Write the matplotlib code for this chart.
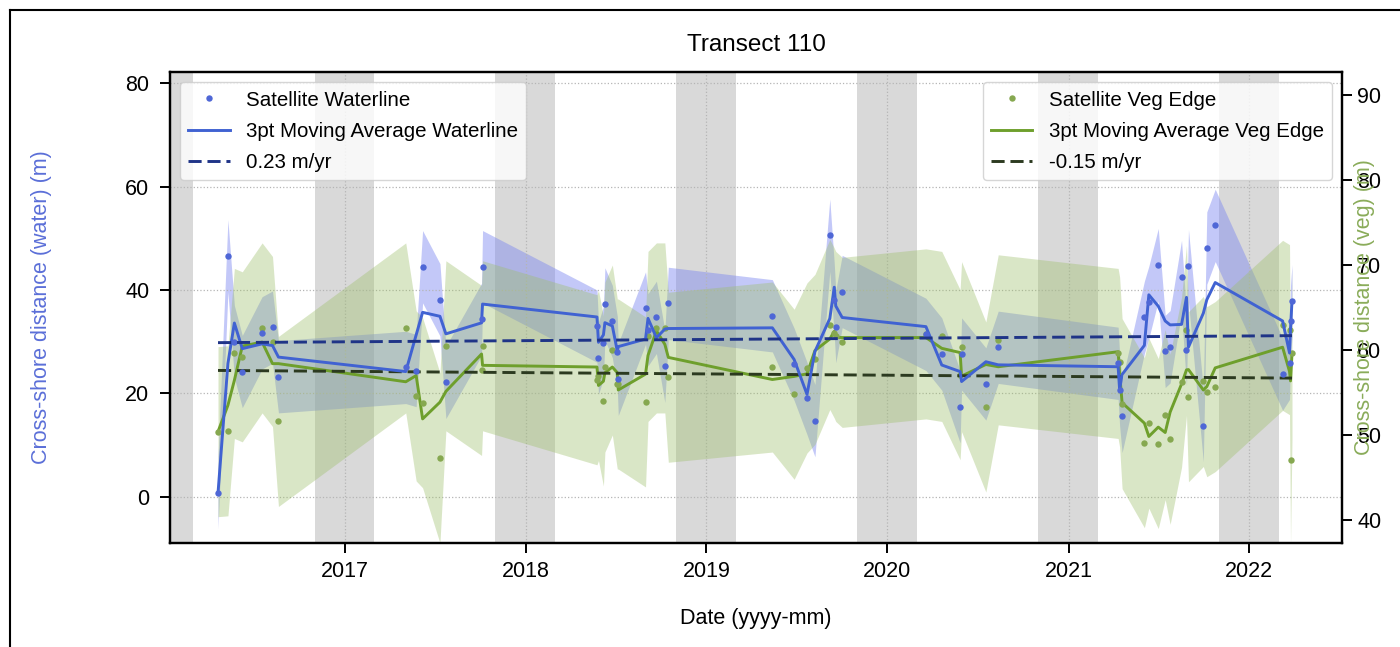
import matplotlib

matplotlib.use("Agg")

import matplotlib.pyplot as plt
import numpy as np
import pandas as pd
from matplotlib.lines import Line2D

plt.rcParams["font.family"] = ["Liberation Sans", "DejaVu Sans"]

TITLE = "Transect 110"

# survey dates shared by both shorelines
DATES = [
    "2016-04-20", "2016-05-10", "2016-05-23", "2016-06-08", "2016-07-18", "2016-08-08",
    "2016-08-20", "2017-05-04", "2017-05-25", "2017-06-07", "2017-07-12", "2017-07-24",
    "2017-10-04", "2017-10-06", "2018-05-25", "2018-05-28", "2018-06-07", "2018-06-10",
    "2018-06-25", "2018-07-05", "2018-07-07", "2018-08-31", "2018-09-05", "2018-09-22",
    "2018-10-09", "2018-10-16", "2019-05-14", "2019-06-27", "2019-07-23", "2019-08-08",
    "2019-09-07", "2019-09-16", "2019-09-19", "2019-10-02", "2020-03-19", "2020-04-20",
    "2020-05-27", "2020-05-30", "2020-07-18", "2020-08-12", "2021-04-11", "2021-04-14",
    "2021-04-19", "2021-06-03", "2021-06-12", "2021-07-01", "2021-07-15", "2021-07-25",
    "2021-08-17", "2021-08-27", "2021-08-31", "2021-09-30", "2021-10-07", "2021-10-24",
    "2022-03-09", "2022-03-23", "2022-03-25", "2022-03-28",
]

WATER = [
    0.7, 46.6, 30.0, 24.2, 31.7, 32.8, 23.2, 25.0, 24.4, 44.5, 38.1, 22.1,
    34.3, 44.5, 33.0, 26.8, 29.8, 37.3, 33.9, 27.9, 22.7, 36.5, 32.3, 34.7,
    25.2, 37.4, 35.0, 25.6, 19.0, 14.7, 50.6, 38.1, 32.9, 39.7, 31.4, 27.6,
    17.4, 27.6, 21.8, 28.9, 25.8, 20.7, 15.5, 34.7, 37.6, 44.9, 28.1, 29.0,
    42.6, 28.4, 44.7, 13.7, 48.1, 52.5, 23.7, 25.8, 33.9, 37.9,
]

VEG = [
    50.4, 50.5, 59.6, 59.2, 62.6, 61.0, 51.6, 62.6, 54.6, 53.8, 47.3, 60.5,
    57.6, 60.5, 56.5, 57.0, 54.0, 58.0, 60.0, 56.0, 56.0, 53.9, 61.6, 62.6,
    62.6, 56.8, 58.0, 54.8, 57.9, 58.9, 63.0, 62.0, 61.6, 60.9, 61.9, 61.6,
    57.1, 60.4, 53.3, 61.2, 59.6, 58.6, 53.7, 49.1, 51.4, 49.0, 52.4, 49.5,
    56.2, 62.3, 54.5, 56.3, 55.1, 55.7, 62.9, 62.4, 47.1, 59.6,
]

# error band half widths (m)
WATER_ERR = 7.0
VEG_ERR = 10.0

# linear trend end values (first date, last date)
WATER_TREND = [29.8, 31.15]
VEG_TREND = [57.6, 56.7]
WATER_TREND_LABEL = "0.23 m/yr"
VEG_TREND_LABEL = "-0.15 m/yr"

WINTER_YEARS = [2015, 2016, 2017, 2018, 2019, 2020, 2021]

WATER_COL = "#4f67d6"
WATER_LINE = "#4062d2"
WATER_FILL = "#7b86f0"
WATER_TREND_COL = "#1f3487"
VEG_COL = "#86a850"
VEG_LINE = "#6e9f2c"
VEG_FILL = "#9dbf6a"
VEG_TREND_COL = "#2c3a20"

LW = 2.1
MS = 4.6
DASHES = (4.5, 2)


def moving_average(values, window=3):
    # centred moving average, end points kept as the raw values
    values = np.asarray(values, dtype=float)
    avg = np.convolve(values, np.ones(window) / window, mode="same")
    avg[0] = values[0]
    avg[-1] = values[-1]
    return avg


def main():
    dates = pd.to_datetime(DATES)
    water = np.array(WATER)
    veg = np.array(VEG)

    fig = plt.figure(figsize=(14, 6.47), dpi=100)
    ax = fig.add_axes([0.1214, 0.1607, 0.8372, 0.728])
    ax2 = ax.twinx()   # veg scale
    ax3 = ax.twinx()   # water marks drawn above the veg band
    water_ylim = (-9.0, 82.2)

    for year in WINTER_YEARS:
        ax.axvspan(pd.Timestamp(year, 11, 1), pd.Timestamp(year + 1, 3, 1),
                   color="#d9d9d9", lw=0, zorder=0)

    ax.fill_between(dates, water - WATER_ERR, water + WATER_ERR,
                    color=WATER_FILL, alpha=0.45, lw=0, zorder=1)

    ax2.fill_between(dates, veg - VEG_ERR, veg + VEG_ERR,
                     color=VEG_FILL, alpha=0.38, lw=0, zorder=1)
    ax2.plot(dates, moving_average(veg), color=VEG_LINE, lw=LW, zorder=3)
    ax2.plot(dates, veg, ls="none", marker="o", ms=MS, mew=0, color=VEG_COL, zorder=4)
    ax2.plot([dates[0], dates[-1]], VEG_TREND, ls="--", dashes=DASHES,
             color=VEG_TREND_COL, lw=LW, zorder=5)

    ax3.plot(dates, moving_average(water), color=WATER_LINE, lw=LW, zorder=3)
    ax3.plot(dates, water, ls="none", marker="o", ms=MS, mew=0, color=WATER_COL, zorder=4)
    ax3.plot([dates[0], dates[-1]], WATER_TREND, ls="--", dashes=DASHES,
             color=WATER_TREND_COL, lw=LW, zorder=5)

    ax.set_xlim(pd.Timestamp("2016-01-14"), pd.Timestamp("2022-07-07"))
    ax.set_ylim(*water_ylim)
    ax3.set_ylim(*water_ylim)
    ax2.set_ylim(37.3, 92.7)
    ax3.axis("off")
    ax.set_yticks([0, 20, 40, 60, 80])
    ax2.set_yticks([40, 50, 60, 70, 80, 90])
    ax.set_xticks(pd.to_datetime([f"{y}-01-01" for y in range(2017, 2023)]))
    ax.set_xticklabels([str(y) for y in range(2017, 2023)])

    ax.grid(True, ls=":", color="#b5b5b5", lw=0.9)
    for a in (ax, ax2):
        for spine in a.spines.values():
            spine.set_linewidth(1.6)
        a.tick_params(labelsize=15.5, length=7, width=1.4, pad=6)
    ax.tick_params(axis="y", pad=8)
    ax2.tick_params(axis="y", pad=4)

    ax.set_ylabel("Cross-shore distance (water) (m)", color="#5b6fd8", fontsize=15.5)
    ax.yaxis.set_label_coords(-0.1007, 0.5)
    ax2.set_ylabel("Cross-shore distance (veg) (m)", color="#8aac5a", fontsize=15.5)
    ax2.yaxis.set_label_coords(1.010, 0.5)
    ax.set_xlabel("Date (yyyy-mm)", fontsize=15.5)
    ax.xaxis.set_label_coords(0.5, -0.137)
    fig.text(756 / 1400, 1 - 45 / 647, TITLE, ha="center", va="center", fontsize=17.5)

    water_handles = [
        Line2D([], [], ls="none", marker="o", ms=MS, mew=0, color=WATER_COL, label="Satellite Waterline"),
        Line2D([], [], color=WATER_LINE, lw=LW, label="3pt Moving Average Waterline"),
        Line2D([], [], color=WATER_TREND_COL, lw=LW, ls="--", dashes=DASHES, label=WATER_TREND_LABEL),
    ]
    veg_handles = [
        Line2D([], [], ls="none", marker="o", ms=MS, mew=0, color=VEG_COL, label="Satellite Veg Edge"),
        Line2D([], [], color=VEG_LINE, lw=LW, label="3pt Moving Average Veg Edge"),
        Line2D([], [], color=VEG_TREND_COL, lw=LW, ls="--", dashes=DASHES, label=VEG_TREND_LABEL),
    ]
    leg1 = ax3.legend(handles=water_handles, loc="upper left", fontsize=14.8, labelspacing=0.6)
    ax3.add_artist(leg1)
    ax3.legend(handles=veg_handles, loc="upper right", fontsize=14.8, labelspacing=0.6)

    # screenshot frame
    fig.add_artist(Line2D([10 / 1400, 10 / 1400], [0, 1 - 10 / 647], transform=fig.transFigure,
                          color="black", lw=1.5))
    fig.add_artist(Line2D([10 / 1400, 1], [1 - 10 / 647, 1 - 10 / 647], transform=fig.transFigure,
                          color="black", lw=1.5))

    fig.savefig("out.png", dpi=100)
    plt.close(fig)


if __name__ == "__main__":
    main()
